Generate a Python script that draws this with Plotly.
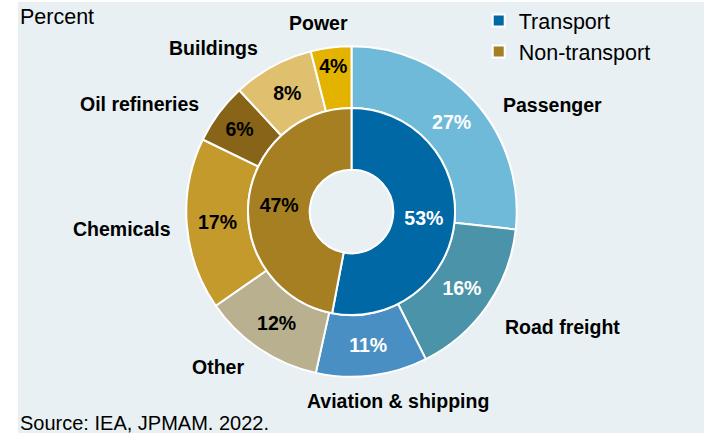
import plotly.graph_objects as go

# ---- data ----
inner_labels = ["Transport", "Non-transport"]
inner_values = [53, 47]
outer_labels = ["Passenger", "Road freight", "Aviation & shipping", "Other",
                "Chemicals", "Oil refineries", "Buildings", "Power"]
outer_values = [27, 16, 11, 12, 17, 6, 8, 4]

# ---- styles ----
inner_colors = ["#0068a5", "#a57f22"]
outer_colors = ["#6fbad9", "#4a93a8", "#4a8fc4", "#b8b08e",
                "#c39a2b", "#876417", "#dfc06f", "#e3b300"]
inner_text_colors = ["white", "black"]
outer_text_colors = ["white", "white", "white", "black",
                     "black", "black", "black", "black"]

W, H = 704, 433
cx, cy = 351.5, 210.5
R_out, R_in, R_hole = 166, 104, 42

def px_dom(r):
    return dict(x=[(cx - r) / W, (cx + r) / W], y=[1 - (cy + r) / H, 1 - (cy - r) / H])

FONT = "Arial, Liberation Sans, sans-serif"

fig = go.Figure()
fig.add_trace(go.Pie(
    labels=outer_labels, values=outer_values, hole=R_in / R_out,
    domain=px_dom(R_out), sort=False, direction="clockwise", rotation=0,
    marker=dict(colors=outer_colors, line=dict(color="white", width=2)),
    text=[f"<b>{v}%</b>" for v in outer_values], textinfo="text",
    textposition="inside", insidetextorientation="horizontal",
    textfont=dict(family=FONT, size=19.5, color=outer_text_colors),
    showlegend=False, hoverinfo="label+value",
))
fig.add_trace(go.Pie(
    labels=inner_labels, values=inner_values, hole=R_hole / R_in,
    domain=px_dom(R_in), sort=False, direction="clockwise", rotation=0,
    marker=dict(colors=inner_colors, line=dict(color="white", width=2)),
    text=[f"<b>{v}%</b>" for v in inner_values], textinfo="text",
    textposition="inside", insidetextorientation="horizontal",
    textfont=dict(family=FONT, size=19.5, color=inner_text_colors),
    showlegend=True, hoverinfo="label+value",
))

# category name labels (outside the ring)
label_pos = {
    "Power": (318, 21), "Buildings": (213, 46), "Oil refineries": (139, 102),
    "Chemicals": (122, 228), "Other": (218, 367), "Aviation & shipping": (398, 401),
    "Road freight": (562, 327), "Passenger": (552, 103),
}
annotations = []
for name in outer_labels:
    x, y = label_pos[name]
    annotations.append(dict(text=f"<b>{name}</b>", x=x / W, y=1 - y / H, xref="paper", yref="paper",
                            xanchor="center", yanchor="middle", showarrow=False,
                            font=dict(family=FONT, size=19.5, color="black")))
annotations.append(dict(text="Percent", x=18 / W, y=1 - 15 / H, xref="paper", yref="paper",
                        xanchor="left", yanchor="middle", showarrow=False,
                        font=dict(family=FONT, size=21.5, color="black")))
annotations.append(dict(text="Source: IEA, JPMAM. 2022.", x=18 / W, y=1 - 423 / H,
                        xref="paper", yref="paper", xanchor="left", yanchor="middle",
                        showarrow=False, font=dict(family=FONT, size=20, color="black")))

fig.update_layout(
    width=W, height=H, margin=dict(l=0, r=0, t=0, b=0),
    paper_bgcolor="white",
    shapes=[dict(type="rect", xref="paper", yref="paper", x0=18 / W, x1=1, y0=0, y1=1,
                 fillcolor="#e8f0f3", line=dict(width=0), layer="below")],
    annotations=annotations,
    legend=dict(x=0.68, y=1.005, xanchor="left", yanchor="top", bgcolor="rgba(0,0,0,0)",
                font=dict(family=FONT, size=21.5, color="black"), tracegroupgap=0),
    uniformtext=dict(minsize=19.5, mode="show"),
)
fig.write_html("out.html", config={"displayModeBar": False},
               post_script="document.body.style.margin='0';document.body.style.padding='0';")
